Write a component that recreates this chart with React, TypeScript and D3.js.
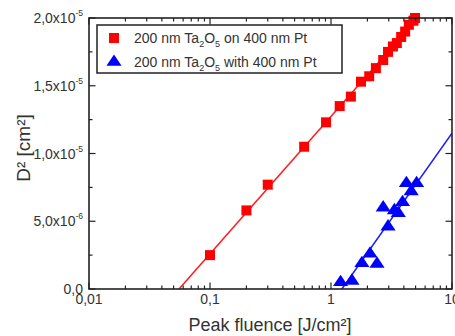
import React from "react";
import * as d3 from "d3";

// fluence [J/cm²] and D² [cm²]
const redFluence = [0.1, 0.2, 0.3, 0.6, 0.91, 1.18, 1.46, 1.77, 2.07, 2.35, 2.7, 2.96, 3.25, 3.5, 3.8, 4.1, 4.4, 4.8, 4.95];
const redD2 = [2.5e-6, 5.8e-6, 7.7e-6, 10.5e-6, 12.3e-6, 13.5e-6, 14.2e-6, 15.3e-6, 15.7e-6, 16.3e-6, 16.9e-6, 17.5e-6, 17.9e-6, 18.15e-6, 18.6e-6, 19.0e-6, 19.5e-6, 19.8e-6, 20.0e-6];

const blueFluence = [1.2, 1.49, 1.8, 2.1, 2.4, 2.96, 2.7, 3.34, 3.6, 3.9, 4.2, 4.6, 5.1];
const blueD2 = [0.5e-6, 0.6e-6, 1.9e-6, 2.6e-6, 1.85e-6, 4.6e-6, 6.0e-6, 5.8e-6, 5.6e-6, 6.4e-6, 7.8e-6, 7.2e-6, 7.8e-6];

// linear fits (D² vs ln F), given by their end points
const redFit: [number, number][] = [[0.0555, 0], [5.2, 2.0e-5]];
const blueFit: [number, number][] = [[1.23, 0], [10, 1.15e-5]];

const xTicks = [0.01, 0.1, 1, 10];
const xTickLabels = ["0,01", "0,1", "1", "10"];
const yTicks = [0, 5e-6, 1e-5, 1.5e-5, 2e-5];
const yMinorTicks = [2.5e-6, 7.5e-6, 1.25e-5, 1.75e-5];

const legendLabels = [
  { pre: "200 nm Ta", s1: "2", mid: "O", s2: "5", post: " on 400 nm Pt" },
  { pre: "200 nm Ta", s1: "2", mid: "O", s2: "5", post: " with 400 nm Pt" },
];

const W = 455;
const H = 336;
const margin = { top: 18, right: 3, bottom: 47, left: 89 };
const FONT = "'Liberation Sans', Arial, sans-serif";
const TXT = "#333";
const AX = "#222";

function yLabel(v: number) {
  if (v === 0) return { m: "0,0", e: null as string | null };
  const e = Math.floor(Math.log10(v) + 1e-9);
  const m = (v / Math.pow(10, e)).toFixed(1).replace(".", ",");
  return { m: m + "x10", e: String(e) };
}

export default function App() {
  const x = d3.scaleLog().domain([0.01, 10]).range([margin.left, W - margin.right]);
  const y = d3.scaleLinear().domain([0, 2e-5]).range([H - margin.bottom, margin.top]);
  const x0 = x.range()[0], x1 = x.range()[1];
  const y0 = y.range()[0], y1 = y.range()[1];

  const xMinor: number[] = [];
  for (let d = 0.01; d < 10; d *= 10) for (let k = 2; k <= 9; k++) xMinor.push(d * k);

  const line = d3.line<[number, number]>().x((d) => x(d[0])).y((d) => y(d[1]));

  const red = redFluence.map((f, i) => [f, redD2[i]]);
  const blue = blueFluence.map((f, i) => [f, blueD2[i]]);
  const tri = d3.symbol().type(d3.symbolTriangle).size(75)();

  return (
    <svg width={W} height={H} style={{ position: "absolute", left: 0, top: 0, background: "#fff" }} fontFamily={FONT}>
      <defs>
        <clipPath id="plot">
          <rect x={x0} y={y1} width={x1 - x0} height={y0 - y1} />
        </clipPath>
      </defs>

      {/* fit lines */}
      <g clipPath="url(#plot)">
        <path d={line(redFit) || ""} stroke="#ff1a1a" strokeWidth={1.5} fill="none" />
        <path d={line(blueFit) || ""} stroke="#1a1aff" strokeWidth={1.5} fill="none" />
      </g>

      {/* markers */}
      {red.map((d, i) => (
        <rect key={"r" + i} x={x(d[0]) - 5} y={y(d[1]) - 5} width={10} height={10} fill="#ff0000" />
      ))}
      {blue.map((d, i) => (
        <path key={"b" + i} d={tri || ""} transform={`translate(${x(d[0])},${y(d[1])}) scale(1.15,1)`} fill="#0000ff" />
      ))}

      {/* ticks */}
      <g stroke={AX} strokeWidth={1.2}>
        {xTicks.map((t) => (
          <g key={"xt" + t}>
            <line x1={x(t)} x2={x(t)} y1={y0} y2={y0 - 6.5} />
            <line x1={x(t)} x2={x(t)} y1={y1} y2={y1 + 6.5} />
          </g>
        ))}
        {xMinor.map((t) => (
          <g key={"xm" + t}>
            <line x1={x(t)} x2={x(t)} y1={y0} y2={y0 - 3.5} />
            <line x1={x(t)} x2={x(t)} y1={y1} y2={y1 + 3.5} />
          </g>
        ))}
        {yTicks.map((t) => (
          <g key={"yt" + t}>
            <line x1={x0} x2={x0 + 6.5} y1={y(t)} y2={y(t)} />
            <line x1={x1} x2={x1 - 6.5} y1={y(t)} y2={y(t)} />
          </g>
        ))}
        {yMinorTicks.map((t) => (
          <g key={"ym" + t}>
            <line x1={x0} x2={x0 + 3.5} y1={y(t)} y2={y(t)} />
            <line x1={x1} x2={x1 - 3.5} y1={y(t)} y2={y(t)} />
          </g>
        ))}
      </g>

      {/* frame */}
      <rect x={x0} y={y1} width={x1 - x0} height={y0 - y1} fill="none" stroke={AX} strokeWidth={1.6} />

      {/* tick labels */}
      {xTicks.map((t, i) => (
        <text key={"xl" + t} x={x(t)} y={y0 + 15} textAnchor="middle" fontSize={14} fill={TXT}>
          {xTickLabels[i]}
        </text>
      ))}
      {yTicks.map((t) => {
        const l = yLabel(t);
        return (
          <text key={"yl" + t} x={x0 - 6} y={y(t) + 5} textAnchor="end" fontSize={14} fill={TXT}>
            {l.m}
            {l.e && (
              <tspan fontSize={8.5} dy={-7}>
                {l.e}
              </tspan>
            )}
          </text>
        );
      })}

      {/* axis titles */}
      <text x={270} y={H - 5} textAnchor="middle" fontSize={18} fill={TXT}>
        Peak fluence [J/cm²]
      </text>
      <text transform={`translate(30,148) rotate(-90)`} textAnchor="middle" fontSize={19} fill={TXT}>
        D² [cm²]
      </text>

      {/* legend */}
      <rect x={97} y={25} width={245} height={48} fill="#fff" stroke={AX} strokeWidth={1.5} />
      <rect x={109} y={33} width={10} height={10} fill="#ff0000" />
      <path d={tri || ""} transform="translate(114,62) scale(1.15,1)" fill="#0000ff" />
      {legendLabels.map((l, i) => (
        <text key={"lg" + i} x={134} y={43 + i * 24} fontSize={14} fill={TXT}>
          {l.pre}
          <tspan fontSize={9} dy={4}>{l.s1}</tspan>
          <tspan dy={-4}>{l.mid}</tspan>
          <tspan fontSize={9} dy={4}>{l.s2}</tspan>
          <tspan dy={-4}>{l.post}</tspan>
        </text>
      ))}
    </svg>
  );
}
